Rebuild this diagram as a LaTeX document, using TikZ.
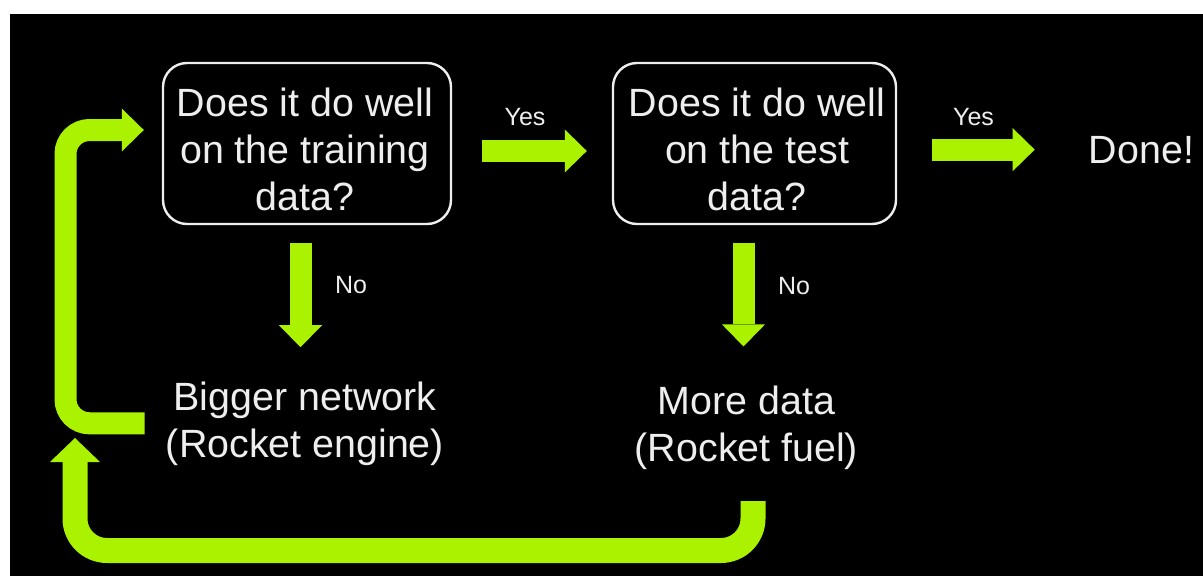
\documentclass[tikz,border=0pt]{standalone}
\usepackage{fontspec}
\setmainfont{Liberation Sans}
\usetikzlibrary{arrows.meta,calc}
\definecolor{lime}{HTML}{AAF200}
\definecolor{ink}{HTML}{EEEEEE}
\begin{document}
\begin{tikzpicture}[x=1pt,y=-1pt,
  qbox/.style={draw=ink, line width=2.4pt, rounded corners=24pt,
    minimum height=161pt, inner sep=0pt},
  bigtext/.style={text=ink, font=\fontsize{39.4}{47}\selectfont,
    align=center, inner sep=0pt},
  smalltext/.style={text=ink, font=\fontsize{25}{30}\selectfont,
    inner sep=0pt, anchor=base},
  flow/.style={draw=lime, line width=22pt,
    -{Triangle[width=43pt,length=22pt,line width=0pt]}},
  loopflow/.style={draw=lime, line width=25pt,
    -{Triangle[width=50pt,length=24pt,line width=0pt]}},
]
% canvas
\useasboundingbox (0,0) rectangle (1203,576);
\fill[white] (0,0) rectangle (1203,576);
\fill[black] (10,14) rectangle (1203,576);

% question boxes
\node[qbox, minimum width=288pt] (q1) at (307,143.5) {};
\node[bigtext] (q1t) at ($(q1.center)+(-2,5.5)$) {Does it do well\\on the training\\data?};
\node[qbox, minimum width=283pt] (q2) at (754.5,143.5) {};
\node[bigtext] (q2t) at ($(q2.center)+(2.5,5.5)$) {Does it do well\\on the test\\data?};

% outcomes
\node[bigtext] (bn) at (305,424.3) {Bigger network\\(Rocket engine)};
\node[bigtext] (md) at (746.5,427.5) {More data\\(Rocket fuel)};
\node[smalltext, font=\fontsize{39.4}{47}\selectfont] (done) at (1141.5,163) {Done!};

% answer labels
\node[smalltext] (yes1) at (525,125) {Yes};
\node[smalltext] (yes2) at (973.5,125) {Yes};
\node[smalltext] (no1) at (351,293) {No};
\node[smalltext] (no2) at (794,294) {No};

% straight arrows
\draw[flow] ($(q1.east)+(30,7.5)$) -- ($(q2.west)+(-25,7.5)$);
\draw[flow] ($(q2.east |- done.west)+(35,0)$) -- ($(done.west)+(-54,0)$);
\draw[flow] ($(q1.south)+(-6.5,18)$) -- ($(q1.south |- bn.north)+(-6.5,-35)$);
\draw[flow] ($(q2.south)+(-11,18)$) -- ($(q2.south |- md.north)+(-11,-39)$);

% loop back from the bigger network
\coordinate (laneL) at (65.5,0);
\draw[flow, rounded corners=24pt] ($(bn.west)+(-21,-1)$) coordinate (s1)
  -- (s1 -| laneL) |- ($(q1.west)+(-18,-13.5)$);

% loop back from more data
\coordinate (laneB) at (75,550.5);
\coordinate (loopin) at (75,438);
\draw[loopflow, rounded corners=32pt] ($(md.south)+(6.5,31.5)$) |- (laneB) -- (loopin);
\end{tikzpicture}
\end{document}
